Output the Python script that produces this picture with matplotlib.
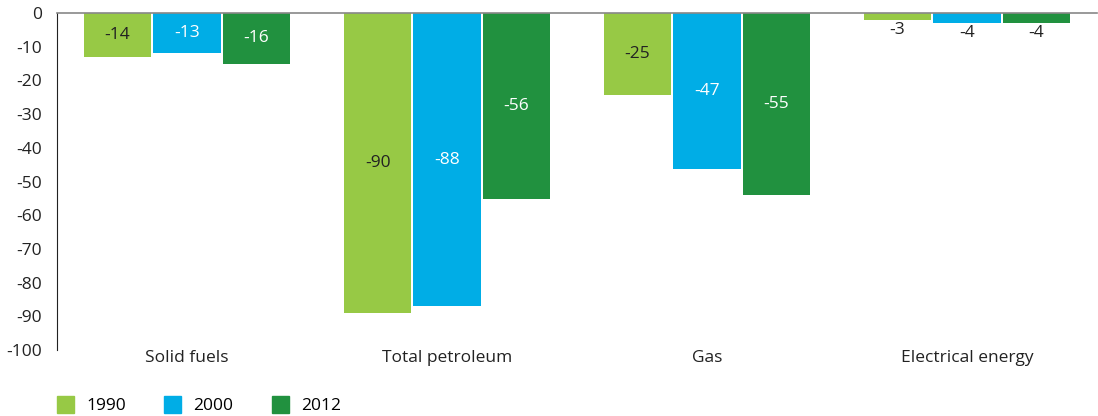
import matplotlib
matplotlib.use('Agg')
import matplotlib.pyplot as plt
from matplotlib.patches import Patch
import numpy as np

plt.rcParams['font.family'] = ['Open Sans', 'DejaVu Sans']
plt.rcParams['axes.unicode_minus'] = False

categories = ['Solid fuels', 'Total petroleum', 'Gas', 'Electrical energy']
years = ['1990', '2000', '2012']
# bar heights as drawn, and the printed labels (which are rounded differently)
bars_1990 = [-13, -89, -24.3, -2]
bars_2000 = [-12, -87, -46.3, -3]
bars_2012 = [-15, -55.2, -54, -3]
labels_1990 = ['-14', '-90', '-25', '-3']
labels_2000 = ['-13', '-88', '-47', '-4']
labels_2012 = ['-16', '-56', '-55', '-4']

colors = ['#97c945', '#00ade6', '#21913f']
text_colors = ['#222222', 'white', 'white']
fs = 12.5

fig = plt.figure(figsize=(10.98, 4.16), dpi=100)
ax = fig.add_axes([57/1098, 1 - 350/416, 1040/1098, 337/416])

x = np.arange(len(categories))
w = 0.258
pitch = 0.267
series = [bars_1990, bars_2000, bars_2012]
labels = [labels_1990, labels_2000, labels_2012]
for i, (vals, labs) in enumerate(zip(series, labels)):
    xs = x + (i - 1) * pitch
    ax.bar(xs, vals, width=w, color=colors[i])
    for xx, v, lab in zip(xs, vals, labs):
        if abs(v) < 5:
            ax.text(xx, v - 0.6, lab, ha='center', va='top', fontsize=fs, color='#222222')
        else:
            ax.text(xx, v / 2, lab, ha='center', va='center', fontsize=fs, color=text_colors[i])

ax.set_xlim(-0.5, 3.5)
ax.set_ylim(-100, 0)
ax.set_yticks(np.arange(-100, 1, 10))
ax.tick_params(axis='y', length=0, labelsize=fs, pad=11, colors='#222222')
ax.tick_params(axis='x', length=0, labelsize=fs, pad=0, colors='#222222')
ax.set_xticks(x)
ax.set_xticklabels(categories)
ax.spines['right'].set_visible(False)
ax.spines['bottom'].set_visible(False)
ax.spines['top'].set_color('#888888')
ax.spines['top'].set_linewidth(1.2)
ax.spines['left'].set_color('#222222')

handles = [Patch(color=c) for c in colors]
fig.legend(handles, years, loc='lower left', bbox_to_anchor=(41/1098, -14/416), ncol=3,
           frameon=False, fontsize=fs, handlelength=1.0, handleheight=1.1,
           columnspacing=2.2, handletextpad=0.7)

fig.savefig('out.png', dpi=100)
